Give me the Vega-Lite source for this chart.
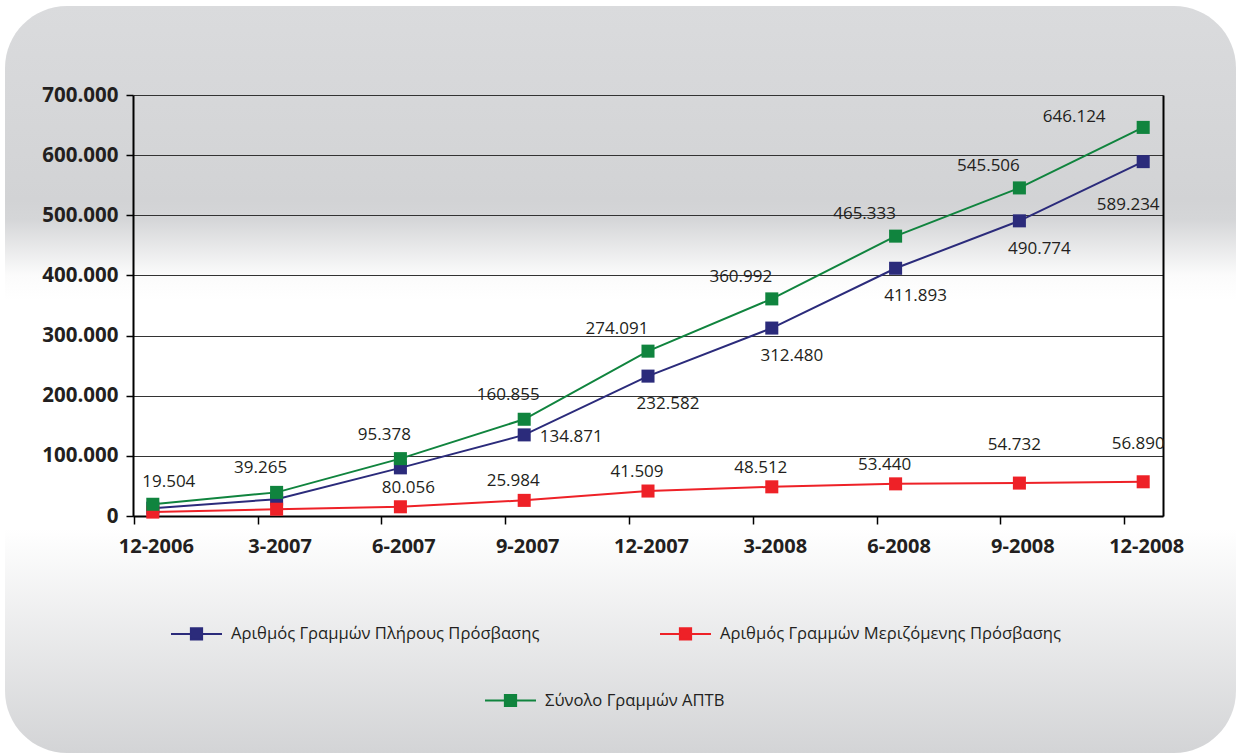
{
  "$schema": "https://vega.github.io/schema/vega-lite/v6.json",
  "width": 1231,
  "height": 747,
  "autosize": {"type": "none"},
  "padding": {"left": 5, "top": 6, "right": 0, "bottom": 2},
  "background": "#ffffff",
  "config": {
    "font": "Open Sans",
    "locale": {"number": {"decimal": ",", "thousands": ".", "grouping": [3], "currency": ["", " €"]}},
    "view": {
      "stroke": null,
      "cornerRadius": 62,
      "fill": {
        "gradient": "linear", "x1": 0, "y1": 0, "x2": 0, "y2": 1,
        "stops": [
          {"offset": 0, "color": "#dadbdd"},
          {"offset": 0.26, "color": "#d2d3d5"},
          {"offset": 0.286, "color": "#d5d6d8"},
          {"offset": 0.36, "color": "#fbfbfb"},
          {"offset": 0.394, "color": "#ffffff"},
          {"offset": 0.70, "color": "#ffffff"},
          {"offset": 1, "color": "#d3d4d6"}
        ]
      }
    },
    "text": {"font": "Open Sans", "fontSize": 17, "color": "#231f20", "align": "center", "baseline": "middle"}
  },
  "data": {
    "values": [
      {"date": "12-2006", "series": "Αριθμός Γραμμών Πλήρους Πρόσβασης", "value": 13004},
      {"date": "3-2007", "series": "Αριθμός Γραμμών Πλήρους Πρόσβασης", "value": 28000},
      {"date": "6-2007", "series": "Αριθμός Γραμμών Πλήρους Πρόσβασης", "value": 80056},
      {"date": "9-2007", "series": "Αριθμός Γραμμών Πλήρους Πρόσβασης", "value": 134871},
      {"date": "12-2007", "series": "Αριθμός Γραμμών Πλήρους Πρόσβασης", "value": 232582},
      {"date": "3-2008", "series": "Αριθμός Γραμμών Πλήρους Πρόσβασης", "value": 312480},
      {"date": "6-2008", "series": "Αριθμός Γραμμών Πλήρους Πρόσβασης", "value": 411893},
      {"date": "9-2008", "series": "Αριθμός Γραμμών Πλήρους Πρόσβασης", "value": 490774},
      {"date": "12-2008", "series": "Αριθμός Γραμμών Πλήρους Πρόσβασης", "value": 589234},
      {"date": "12-2006", "series": "Αριθμός Γραμμών Μεριζόμενης Πρόσβασης", "value": 6500},
      {"date": "3-2007", "series": "Αριθμός Γραμμών Μεριζόμενης Πρόσβασης", "value": 11265},
      {"date": "6-2007", "series": "Αριθμός Γραμμών Μεριζόμενης Πρόσβασης", "value": 15322},
      {"date": "9-2007", "series": "Αριθμός Γραμμών Μεριζόμενης Πρόσβασης", "value": 25984},
      {"date": "12-2007", "series": "Αριθμός Γραμμών Μεριζόμενης Πρόσβασης", "value": 41509},
      {"date": "3-2008", "series": "Αριθμός Γραμμών Μεριζόμενης Πρόσβασης", "value": 48512},
      {"date": "6-2008", "series": "Αριθμός Γραμμών Μεριζόμενης Πρόσβασης", "value": 53440},
      {"date": "9-2008", "series": "Αριθμός Γραμμών Μεριζόμενης Πρόσβασης", "value": 54732},
      {"date": "12-2008", "series": "Αριθμός Γραμμών Μεριζόμενης Πρόσβασης", "value": 56890},
      {"date": "12-2006", "series": "Σύνολο Γραμμών ΑΠΤΒ", "value": 19504},
      {"date": "3-2007", "series": "Σύνολο Γραμμών ΑΠΤΒ", "value": 39265},
      {"date": "6-2007", "series": "Σύνολο Γραμμών ΑΠΤΒ", "value": 95378},
      {"date": "9-2007", "series": "Σύνολο Γραμμών ΑΠΤΒ", "value": 160855},
      {"date": "12-2007", "series": "Σύνολο Γραμμών ΑΠΤΒ", "value": 274091},
      {"date": "3-2008", "series": "Σύνολο Γραμμών ΑΠΤΒ", "value": 360992},
      {"date": "6-2008", "series": "Σύνολο Γραμμών ΑΠΤΒ", "value": 465333},
      {"date": "9-2008", "series": "Σύνολο Γραμμών ΑΠΤΒ", "value": 545506},
      {"date": "12-2008", "series": "Σύνολο Γραμμών ΑΠΤΒ", "value": 646124}
    ]
  },
  "resolve": {"axis": {"y": "independent"}},
  "layer": [
    {
      "transform": [{"filter": {"field": "series", "oneOf": ["Αριθμός Γραμμών Πλήρους Πρόσβασης", "Αριθμός Γραμμών Μεριζόμενης Πρόσβασης"]}}],
      "mark": {"type": "line", "strokeWidth": 2},
      "encoding": {
        "x": {
          "field": "date", "type": "ordinal", "sort": null,
          "scale": {"type": "point", "domain": ["12-2006", "3-2007", "6-2007", "9-2007", "12-2007", "3-2008", "6-2008", "9-2008", "12-2008"], "range": [128, 1158], "padding": 0.16},
          "axis": {"orient": "bottom", "offset": -237, "title": null, "labelAngle": 0, "tickOffset": -19, "labelOffset": 22, "tickSize": 8, "tickColor": "#000000", "tickWidth": 1.5, "domainColor": "#000000", "domainWidth": 2, "labelPadding": 12, "labelFont": "Open Sans", "labelFontSize": 20, "labelFontWeight": "bold", "labelColor": "#231f20", "grid": false}
        },
        "y": {
          "field": "value", "type": "quantitative",
          "scale": {"domain": [0, 700000], "range": [510, 89], "nice": false},
          "axis": {"orient": "left", "offset": -128, "title": null, "values": [0, 100000, 200000, 300000, 400000, 500000, 600000, 700000], "format": ",d", "grid": true, "gridColor": "#333333", "gridWidth": 1, "domainColor": "#000000", "domainWidth": 2, "tickColor": "#000000", "tickSize": 7, "tickWidth": 1.5, "labelPadding": 8, "labelFont": "Open Sans", "labelFontSize": 20.5, "labelFontWeight": "bold", "labelColor": "#231f20"}
        },
        "color": {
          "field": "series", "type": "nominal",
          "scale": {"domain": ["Αριθμός Γραμμών Πλήρους Πρόσβασης", "Αριθμός Γραμμών Μεριζόμενης Πρόσβασης"], "range": ["#2b2b7b", "#ee2127"]},
          "legend": {
            "orient": "none", "legendX": 165, "legendY": 601, "direction": "horizontal", "columns": 2, "title": null, "padding": 0,
            "symbolType": "M-1,0H1M-0.22,-0.22H0.22V0.22H-0.22Z", "symbolSize": 2601, "symbolStrokeWidth": 2,
            "labelFont": "Open Sans", "labelFontSize": 16.6, "labelColor": "#231f20", "labelOffset": 8, "labelLimit": 600, "columnPadding": 116,
            "encode": {"symbols": {"update": {"fill": {"scale": "color", "field": "value"}, "fillOpacity": {"value": 1}, "opacity": {"value": 1}}}}
          }
        }
      }
    },
    {
      "transform": [{"filter": {"field": "series", "oneOf": ["Αριθμός Γραμμών Πλήρους Πρόσβασης", "Αριθμός Γραμμών Μεριζόμενης Πρόσβασης"]}}],
      "mark": {"type": "point", "shape": "square", "filled": true, "size": 170, "opacity": 1},
      "encoding": {
        "x": {"field": "date", "type": "ordinal", "sort": null},
        "y": {"field": "value", "type": "quantitative", "axis": {"orient": "right", "offset": -73, "title": null, "grid": false, "ticks": false, "labels": false, "domainColor": "#000000", "domainWidth": 2}},
        "color": {"field": "series", "type": "nominal"}
      }
    },
    {
      "transform": [{"filter": {"field": "series", "equal": "Σύνολο Γραμμών ΑΠΤΒ"}}],
      "mark": {"type": "line", "strokeWidth": 2},
      "encoding": {
        "x": {"field": "date", "type": "ordinal", "sort": null},
        "y": {"field": "value", "type": "quantitative", "axis": null},
        "stroke": {
          "field": "series", "type": "nominal",
          "scale": {"domain": ["Σύνολο Γραμμών ΑΠΤΒ"], "range": ["#10843e"]},
          "legend": {
            "orient": "none", "legendX": 479, "legendY": 668, "title": null, "padding": 0,
            "symbolType": "M-1,0H1M-0.22,-0.22H0.22V0.22H-0.22Z", "symbolSize": 2601, "symbolStrokeWidth": 2, "symbolFillColor": "#10843e",
            "labelFont": "Open Sans", "labelFontSize": 16.6, "labelColor": "#231f20", "labelOffset": 8, "labelLimit": 600
          }
        }
      }
    },
    {
      "transform": [{"filter": {"field": "series", "equal": "Σύνολο Γραμμών ΑΠΤΒ"}}],
      "mark": {"type": "point", "shape": "square", "filled": true, "size": 170, "opacity": 1, "color": "#10843e"},
      "encoding": {
        "x": {"field": "date", "type": "ordinal", "sort": null},
        "y": {"field": "value", "type": "quantitative", "axis": null}
      }
    },
    {
      "transform": [{"filter": {"and": [{"field": "series", "equal": "Σύνολο Γραμμών ΑΠΤΒ"}, {"field": "date", "oneOf": ["12-2006"]}]}}],
      "mark": {"type": "text", "dx": 16, "dy": -22},
      "encoding": {"x": {"field": "date", "type": "ordinal", "sort": null}, "y": {"field": "value", "type": "quantitative", "axis": null}, "text": {"field": "value", "type": "quantitative", "format": ",d"}}
    },
    {
      "transform": [{"filter": {"and": [{"field": "series", "equal": "Σύνολο Γραμμών ΑΠΤΒ"}, {"field": "date", "oneOf": ["3-2007", "6-2007", "9-2007"]}]}}],
      "mark": {"type": "text", "dx": -16, "dy": -24},
      "encoding": {"x": {"field": "date", "type": "ordinal", "sort": null}, "y": {"field": "value", "type": "quantitative", "axis": null}, "text": {"field": "value", "type": "quantitative", "format": ",d"}}
    },
    {
      "transform": [{"filter": {"and": [{"field": "series", "equal": "Σύνολο Γραμμών ΑΠΤΒ"}, {"field": "date", "oneOf": ["12-2007", "3-2008", "6-2008", "9-2008"]}]}}],
      "mark": {"type": "text", "dx": -31, "dy": -22},
      "encoding": {"x": {"field": "date", "type": "ordinal", "sort": null}, "y": {"field": "value", "type": "quantitative", "axis": null}, "text": {"field": "value", "type": "quantitative", "format": ",d"}}
    },
    {
      "transform": [{"filter": {"and": [{"field": "series", "equal": "Σύνολο Γραμμών ΑΠΤΒ"}, {"field": "date", "oneOf": ["12-2008"]}]}}],
      "mark": {"type": "text", "dx": -69, "dy": -10},
      "encoding": {"x": {"field": "date", "type": "ordinal", "sort": null}, "y": {"field": "value", "type": "quantitative", "axis": null}, "text": {"field": "value", "type": "quantitative", "format": ",d"}}
    },
    {
      "transform": [{"filter": {"and": [{"field": "series", "equal": "Αριθμός Γραμμών Πλήρους Πρόσβασης"}, {"field": "date", "oneOf": ["6-2007"]}]}}],
      "mark": {"type": "text", "dx": 8, "dy": 20},
      "encoding": {"x": {"field": "date", "type": "ordinal", "sort": null}, "y": {"field": "value", "type": "quantitative", "axis": null}, "text": {"field": "value", "type": "quantitative", "format": ",d"}}
    },
    {
      "transform": [{"filter": {"and": [{"field": "series", "equal": "Αριθμός Γραμμών Πλήρους Πρόσβασης"}, {"field": "date", "oneOf": ["9-2007"]}]}}],
      "mark": {"type": "text", "dx": 47, "dy": 2},
      "encoding": {"x": {"field": "date", "type": "ordinal", "sort": null}, "y": {"field": "value", "type": "quantitative", "axis": null}, "text": {"field": "value", "type": "quantitative", "format": ",d"}}
    },
    {
      "transform": [{"filter": {"and": [{"field": "series", "equal": "Αριθμός Γραμμών Πλήρους Πρόσβασης"}, {"field": "date", "oneOf": ["12-2007", "3-2008", "6-2008", "9-2008"]}]}}],
      "mark": {"type": "text", "dx": 20, "dy": 28},
      "encoding": {"x": {"field": "date", "type": "ordinal", "sort": null}, "y": {"field": "value", "type": "quantitative", "axis": null}, "text": {"field": "value", "type": "quantitative", "format": ",d"}}
    },
    {
      "transform": [{"filter": {"and": [{"field": "series", "equal": "Αριθμός Γραμμών Πλήρους Πρόσβασης"}, {"field": "date", "oneOf": ["12-2008"]}]}}],
      "mark": {"type": "text", "dx": -15, "dy": 43},
      "encoding": {"x": {"field": "date", "type": "ordinal", "sort": null}, "y": {"field": "value", "type": "quantitative", "axis": null}, "text": {"field": "value", "type": "quantitative", "format": ",d"}}
    },
    {
      "transform": [{"filter": {"and": [{"field": "series", "equal": "Αριθμός Γραμμών Μεριζόμενης Πρόσβασης"}, {"field": "date", "oneOf": ["9-2007", "12-2007", "3-2008", "6-2008"]}]}}],
      "mark": {"type": "text", "dx": -11, "dy": -19},
      "encoding": {"x": {"field": "date", "type": "ordinal", "sort": null}, "y": {"field": "value", "type": "quantitative", "axis": null}, "text": {"field": "value", "type": "quantitative", "format": ",d"}}
    },
    {
      "transform": [{"filter": {"and": [{"field": "series", "equal": "Αριθμός Γραμμών Μεριζόμενης Πρόσβασης"}, {"field": "date", "oneOf": ["9-2008", "12-2008"]}]}}],
      "mark": {"type": "text", "dx": -5, "dy": -38},
      "encoding": {"x": {"field": "date", "type": "ordinal", "sort": null}, "y": {"field": "value", "type": "quantitative", "axis": null}, "text": {"field": "value", "type": "quantitative", "format": ",d"}}
    }
  ]
}
